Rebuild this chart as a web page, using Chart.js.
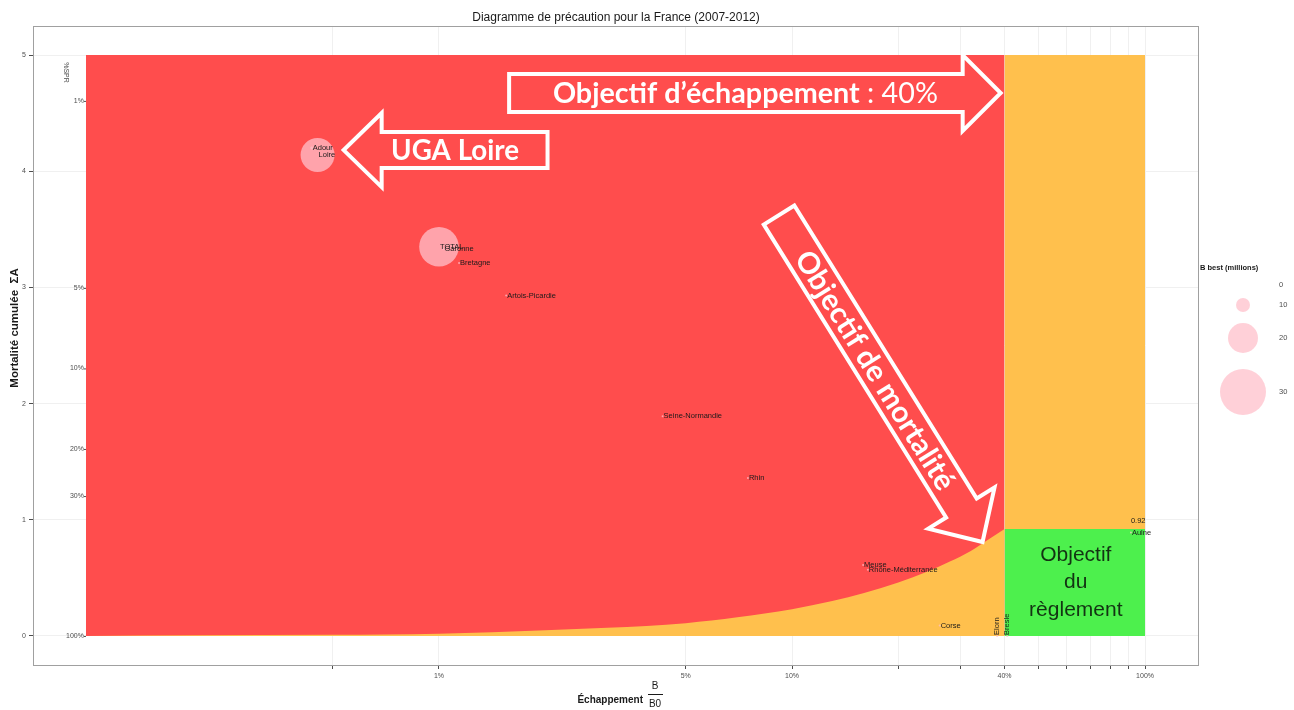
<!DOCTYPE html>
<html>
<head>
<meta charset="utf-8">
<script src="https://cdn.jsdelivr.net/npm/chart.js@4.4.1/dist/chart.umd.min.js"></script>
<style>
  html,body{margin:0;padding:0;background:#fff}
  #wrap{width:1294px;height:710px;position:relative}
</style>
</head>
<body>
<div id="wrap"><canvas id="ch"></canvas></div>
<script>
/* ---------- données ---------- */
const CHART_TITLE='Diagramme de précaution pour la France (2007-2012)';
const xTickValues=[0.5,1,5,10,20,30,40,50,60,70,80,90,100];
const xTickLabelled=[1,5,10,40,100];
const yTickValues=[0,1,2,3,4,5];
const sprTicks=[1,5,10,20,30,100];          // %SPR
const zoneX=[0.1,40,100];                    // échappement B/B0 (%)
const zoneTop=5;
const objectifA=0.92;
// limite de mortalité (courbe jaune)
const curveX=[0.1,0.2,0.5,1,2,3,5,7,10,13,16,20,24,28,32,36,40];
const curveA=[0,0.005,0.01,0.02,0.05,0.07,0.11,0.16,0.23,0.30,0.37,0.46,0.55,0.64,0.73,0.83,0.92];
// unités de gestion
const unitNames=['Adour','Loire','TOTAL','Garonne','Bretagne','Artois-Picardie','Seine-Normandie','Rhin','Meuse','Rhône-Méditerranée','Corse','Elorn','Bresle','Aulne'];
const unitEsc  =[0.436,0.453,1.0,1.03,1.14,1.55,4.30,7.5,15.9,16.4,26.2,38.1,40.7,91.2];
const unitMort =[4.20,4.14,3.35,3.33,3.21,2.93,1.89,1.36,0.61,0.57,0.09,0.0,0.0,0.89];
const unitBbest=[3,22.5,26,1.5,1.5,0.5,2.5,0.5,0.3,0.5,0.2,0.3,0.3,0.3];
const rotatedUnits=['Elorn','Bresle'];
const legendValues=[0,10,20,30];

/* ---------- couleurs ---------- */
const RED='#FF4D4D',ORANGE='#FFC04D',GREEN='#4DF04D',PINK='rgba(255,192,203,0.75)';
const rOf=b=>Math.max(1,0.8*b-1);

/* flèches blanches (coordonnées en données) */
const arrows=[
  {from:[1.58,4.673],to:[39,4.673],half:19,head:38,headLen:38,width:385,parts:[['Objectif d’échappement','bold'],[' : 40%','normal']]},
  {from:[2.03,4.182],to:[0.537,4.182],half:18,head:37,headLen:38,width:128,parts:[['UGA Loire','bold']]},
  {from:[9.19,3.623],to:[34.65,0.809],half:18,head:39,headLen:40,width:276,parts:[['Objectif de mortalité','bold']]}
];

const decor={
  id:'decor',
  afterDatasetsDraw(chart){
    const {ctx,scales:{x,y}}=chart;
    ctx.save();
    // étiquettes des unités
    ctx.fillStyle='#1a1a1a';ctx.font='7.5px "Liberation Sans", Arial';ctx.textBaseline='middle';ctx.textAlign='left';
    unitNames.forEach((n,i)=>{
      const px=x.getPixelForValue(unitEsc[i]),py=y.getPixelForValue(unitMort[i]);
      if(rotatedUnits.includes(n)){
        ctx.save();ctx.translate(px,py);ctx.rotate(-Math.PI/2);ctx.fillText(n,1,0);ctx.restore();
      }else ctx.fillText(n,px+1,py);
    });
    ctx.fillText(String(objectifA),x.getPixelForValue(91.2),y.getPixelForValue(0.99));
    // texte de la zone verte
    const gx=(x.getPixelForValue(zoneX[1])+x.getPixelForValue(zoneX[2]))/2;
    const gy=(y.getPixelForValue(0)+y.getPixelForValue(objectifA))/2;
    ctx.fillStyle='#133313';ctx.font='21px "Liberation Sans", Arial';ctx.textAlign='center';
    ['Objectif','du','règlement'].forEach((t,i)=>ctx.fillText(t,gx+1,gy+(i-1)*27.5));
    // flèches
    arrows.forEach(a=>{
      const x0=x.getPixelForValue(a.from[0]),y0=y.getPixelForValue(a.from[1]);
      const x1=x.getPixelForValue(a.to[0]),y1=y.getPixelForValue(a.to[1]);
      const ang=Math.atan2(y1-y0,x1-x0),L=Math.hypot(x1-x0,y1-y0);
      ctx.save();ctx.translate(x0,y0);ctx.rotate(ang);
      ctx.beginPath();
      ctx.moveTo(0,-a.half);ctx.lineTo(L-a.headLen,-a.half);ctx.lineTo(L-a.headLen,-a.head);
      ctx.lineTo(L,0);ctx.lineTo(L-a.headLen,a.head);ctx.lineTo(L-a.headLen,a.half);ctx.lineTo(0,a.half);
      ctx.closePath();
      ctx.strokeStyle='#fff';ctx.lineWidth=4;ctx.lineJoin='miter';ctx.stroke();
      // texte
      const c=L/2-a.headLen/4;
      ctx.translate(c,0);
      if(Math.abs(ang)>Math.PI/2)ctx.rotate(Math.PI);
      ctx.fillStyle='#fff';ctx.textBaseline='middle';ctx.textAlign='left';
      const measure=s=>a.parts.reduce((w,p)=>{ctx.font=`${p[1]} ${s}px Lato, "Open Sans", sans-serif`;return w+ctx.measureText(p[0]).width;},0);
      const size=26*a.width/measure(26);
      let tx=-measure(size)/2;
      a.parts.forEach(p=>{ctx.font=`${p[1]} ${size}px Lato, "Open Sans", sans-serif`;ctx.fillText(p[0],tx,1);tx+=ctx.measureText(p[0]).width;});
      ctx.restore();
    });
    ctx.restore();
  },
  afterDraw(chart){
    const {ctx,chartArea:ca,scales:{x,y}}=chart;
    ctx.save();
    // cadre du panneau
    ctx.strokeStyle='#a0a0a0';ctx.lineWidth=1;
    ctx.strokeRect(Math.round(ca.left)+0.5,Math.round(ca.top)+0.5,Math.round(ca.right-ca.left),Math.round(ca.bottom-ca.top));
    // axe secondaire %SPR
    const sx=x.getPixelForValue(zoneX[0]);
    ctx.fillStyle='#4d4d4d';ctx.strokeStyle='#4d4d4d';ctx.font='7px "Liberation Sans", Arial';
    ctx.textAlign='right';ctx.textBaseline='middle';
    sprTicks.forEach(p=>{
      const py=y.getPixelForValue(-Math.log(p/100));
      ctx.fillText(p+'%',sx-2,py);
      ctx.beginPath();ctx.moveTo(sx-2,py+0.5);ctx.lineTo(sx,py+0.5);ctx.stroke();
    });
    ctx.save();ctx.translate(66,y.getPixelForValue(4.85));ctx.rotate(Math.PI/2);ctx.textAlign='center';ctx.fillText('%SPR',0,0);ctx.restore();
    // titre
    ctx.fillStyle='#1a1a1a';ctx.font='12px "Liberation Sans", Arial';ctx.textAlign='center';
    ctx.fillText(CHART_TITLE,616,18);
    // titre axe Y
    ctx.save();ctx.translate(15,328);ctx.rotate(-Math.PI/2);
    ctx.font='bold 11.5px "Liberation Sans", Arial';ctx.fillText('Mortalité cumulée  ΣA',0,0);ctx.restore();
    // titre axe X avec fraction
    ctx.font='bold 10px "Liberation Sans", Arial';ctx.textAlign='right';
    ctx.fillText('Échappement',643,700);
    ctx.font='10px "Liberation Sans", Arial';ctx.textAlign='center';
    ctx.fillText('B',655,686);ctx.fillText('B0',655,704);
    ctx.strokeStyle='#1a1a1a';ctx.beginPath();ctx.moveTo(648,694.5);ctx.lineTo(663,694.5);ctx.stroke();
    // légende
    ctx.font='bold 7.5px "Liberation Sans", Arial';ctx.textAlign='left';ctx.fillStyle='#1a1a1a';
    ctx.fillText('B best (millions)',1200,268);
    const ly=[285,305,338,392];
    ctx.font='7.5px "Liberation Sans", Arial';
    legendValues.forEach((v,i)=>{
      if(v>0){ctx.fillStyle=PINK;ctx.beginPath();ctx.arc(1243,ly[i],rOf(v),0,Math.PI*2);ctx.fill();}
      ctx.fillStyle='#4d4d4d';ctx.fillText(String(v),1279,ly[i]);
    });
    ctx.restore();
  }
};

const rect=(x0,x1,top)=>[{x:x0,y:top},{x:x1,y:top}];
const lineBase={type:'line',borderWidth:0,pointRadius:0,fill:'origin'};

new Chart(document.getElementById('ch'),{
  data:{datasets:[
    {...lineBase,data:rect(zoneX[0],zoneX[1],zoneTop),backgroundColor:RED,order:10},
    {...lineBase,data:rect(zoneX[1],zoneX[2],zoneTop),backgroundColor:ORANGE,order:9},
    {...lineBase,data:curveX.map((v,i)=>({x:v,y:curveA[i]})),backgroundColor:ORANGE,cubicInterpolationMode:'monotone',order:8},
    {...lineBase,data:rect(zoneX[1],zoneX[2],objectifA),backgroundColor:GREEN,order:7},
    {type:'bubble',data:unitNames.map((n,i)=>({x:unitEsc[i],y:unitMort[i],r:rOf(unitBbest[i])})),backgroundColor:PINK,borderWidth:0,order:1}
  ]},
  options:{
    responsive:true,maintainAspectRatio:false,animation:false,events:[],
    layout:{padding:{top:26,right:96,left:0,bottom:0}},
    plugins:{legend:{display:false},tooltip:{enabled:false},title:{display:false}},
    scales:{
      x:{type:'logarithmic',min:Math.pow(10,-1.15),max:Math.pow(10,2.15),
        afterBuildTicks:s=>{s.ticks=xTickValues.map(v=>({value:v}));},
        afterFit:s=>{s.height=45;},
        ticks:{autoSkip:false,maxRotation:0,padding:3,color:'#4d4d4d',font:{size:7,family:'"Liberation Sans", Arial'},
          callback:v=>xTickLabelled.includes(v)?v+'%':''},
        grid:{color:'#f0f0f0',tickColor:'#4d4d4d',tickLength:4},border:{display:false}},
      y:{type:'linear',min:-0.25,max:5.25,
        afterBuildTicks:s=>{s.ticks=yTickValues.map(v=>({value:v}));},
        afterFit:s=>{s.width=33;},
        ticks:{padding:3,color:'#4d4d4d',font:{size:7,family:'"Liberation Sans", Arial'},callback:v=>String(v)},
        grid:{color:'#f0f0f0',tickColor:'#4d4d4d',tickLength:4},border:{display:false}}
    }
  },
  plugins:[decor]
});
</script>
</body>
</html>
